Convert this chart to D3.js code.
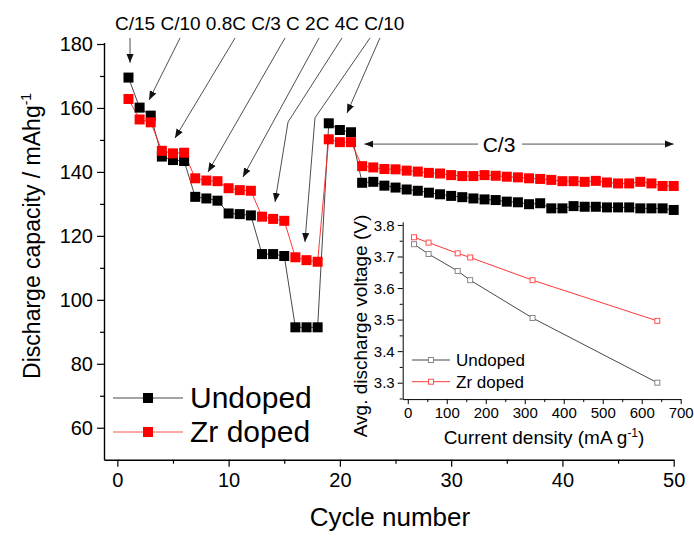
<!DOCTYPE html>
<html>
<head>
<meta charset="utf-8">
<script src="https://cdn.jsdelivr.net/npm/d3@7"></script>
<style>
  html, body { margin: 0; padding: 0; background: #fff; }
  svg { display: block; font-family: Arial, "Liberation Sans", sans-serif; }
</style>
</head>
<body>
<svg id="chart" width="694" height="536"></svg>
<script>
// ---------------- DATA ----------------
const cycles = d3.range(1, 51);
const undoped = [169.5, 160.1, 157.6, 144.8, 143.7, 143.4, 132.2, 131.7, 131.0, 127.0,
  126.8, 126.4, 114.3, 114.3, 113.7, 91.4, 91.4, 91.4, 155.2, 153.1,
  152.4, 136.6, 136.9, 135.7, 135.1, 134.5, 134.1, 133.5, 133.0, 132.5,
  132.1, 131.7, 131.4, 131.2, 130.7, 130.5, 129.9, 130.2, 128.6, 128.6,
  129.3, 129.1, 129.1, 128.9, 128.9, 128.9, 128.6, 128.6, 128.6, 128.1];
const zrDoped = [162.8, 156.4, 155.5, 146.6, 145.8, 146.0, 138.0, 137.3, 137.1, 134.9,
  134.3, 134.1, 126.0, 125.3, 124.7, 113.3, 112.4, 111.9, 150.2, 149.3,
  149.3, 141.8, 141.4, 140.9, 140.8, 140.4, 140.1, 139.7, 139.5, 139.0,
  138.7, 138.7, 139.0, 138.8, 138.5, 138.3, 138.0, 137.8, 137.5, 137.1,
  137.1, 136.9, 137.2, 136.7, 136.4, 136.4, 136.9, 136.4, 135.6, 135.6];
const seriesNames = ["Undoped", "Zr doped"];

const xTicks = [0, 10, 20, 30, 40, 50];
const yTicks = [60, 80, 100, 120, 140, 160, 180];

// rate annotations: label, arrow start and (optional) bend, arrow tip (cycle, capacity)
const rateLabels = ["C/15", "C/10", "0.8C", "C/3", "C", "2C", "4C", "C/10"];
const arrowStart = [[1.14, 181.9], [5.64, 181.9], [10.58, 181.9], [15.07, 181.9],
  [18.13, 181.9], [20.19, 181.9], [22.71, 181.9], [23.6, 181.9]];
const arrowBend = [null, null, null, null, null, [15.34, 155.6], [17.76, 156.9], null];
const arrowTip = [[1.14, 174.1], [2.85, 162.5], [5.18, 150.6], [8.15, 140.0],
  [11.29, 138.4], [14.17, 130.6], [16.86, 118.1], [20.64, 158.4]];
const longRateLabel = "C/3";
const longRateSpan = [22.2, 50];
const longRateY = 148.7;

// inset
const currentDensity = [16, 53.3, 128, 160, 320, 640];
const voltUndoped = [3.739, 3.708, 3.654, 3.625, 3.505, 3.300];
const voltZr = [3.761, 3.744, 3.710, 3.697, 3.625, 3.496];
const insetXTicks = [0, 100, 200, 300, 400, 500, 600, 700];
const insetYTicks = [3.3, 3.4, 3.5, 3.6, 3.7, 3.8];

// ---------------- CHART ----------------
const svg = d3.select("#chart");
const x = d3.scaleLinear().domain([-1.2, 50]).range([104, 673.7]);
const y = d3.scaleLinear().domain([50, 180.5]).range([459.7, 42.4]);

svg.append("defs").append("marker")
  .attr("id", "ah").attr("viewBox", "0 0 10 10").attr("refX", 10).attr("refY", 5)
  .attr("markerWidth", 9).attr("markerHeight", 9).attr("markerUnits", "userSpaceOnUse")
  .attr("orient", "auto")
  .append("path").attr("d", "M0,1 L10,5 L0,9 Z").attr("fill", "#111");

// lines
const line = d3.line().x((d, i) => x(cycles[i])).y(d => y(d));
svg.append("path").datum(undoped).attr("d", line)
  .attr("fill", "none").attr("stroke", "#333").attr("stroke-width", 0.9);
svg.append("path").datum(zrDoped).attr("d", line)
  .attr("fill", "none").attr("stroke", "#ff2020").attr("stroke-width", 0.9);

const ms = 10;
svg.append("g").selectAll("rect").data(undoped).join("rect")
  .attr("x", (d, i) => x(cycles[i]) - ms / 2).attr("y", d => y(d) - ms / 2)
  .attr("width", ms).attr("height", ms).attr("fill", "#000");
svg.append("g").selectAll("rect").data(zrDoped).join("rect")
  .attr("x", (d, i) => x(cycles[i]) - ms / 2).attr("y", d => y(d) - ms / 2)
  .attr("width", ms).attr("height", ms).attr("fill", "#ff0000");

// axes
const xAxis = svg.append("g").attr("transform", `translate(0,${y.range()[0]})`)
  .call(d3.axisBottom(x).tickValues(xTicks).tickSize(7).tickSizeOuter(0).tickPadding(6));
svg.append("g").attr("transform", `translate(0,${y.range()[0]})`)
  .call(d3.axisBottom(x).tickValues(d3.range(5, 50, 10)).tickSize(4).tickFormat("").tickSizeOuter(0))
  .select(".domain").remove();
const yAxis = svg.append("g").attr("transform", `translate(${x.range()[0]},0)`)
  .call(d3.axisLeft(y).tickValues(yTicks).tickSize(7).tickSizeOuter(0).tickPadding(4));
svg.append("g").attr("transform", `translate(${x.range()[0]},0)`)
  .call(d3.axisLeft(y).tickValues(d3.range(70, 180, 20)).tickSize(4).tickFormat("").tickSizeOuter(0))
  .select(".domain").remove();
svg.selectAll(".domain").attr("stroke-width", 1.4);
svg.selectAll(".tick line").attr("stroke-width", 1.2);
xAxis.selectAll("text").attr("font-size", 20).attr("font-family", "Arial, 'Liberation Sans', sans-serif");
yAxis.selectAll("text").attr("font-size", 20).attr("dy", "0.35em").attr("font-family", "Arial, 'Liberation Sans', sans-serif");

// axis titles
svg.append("text").attr("x", 390).attr("y", 526)
  .attr("text-anchor", "middle").attr("font-size", 26).text("Cycle number");
const yt = svg.append("text").attr("transform", `translate(40,${(y(60) + y(180)) / 2}) rotate(-90)`)
  .attr("text-anchor", "middle").attr("font-size", 23);
yt.append("tspan").text("Discharge capacity / mAhg");
yt.append("tspan").attr("font-size", 14).attr("dy", -9).text("-1");

// legend (main)
const legColors = ["#000", "#ff0000"];
const legLine = ["#333", "#ff4040"];
seriesNames.forEach((name, i) => {
  const ly = 398 + i * 34;
  svg.append("line").attr("x1", 113).attr("x2", 183).attr("y1", ly).attr("y2", ly)
    .attr("stroke", legLine[i]).attr("stroke-width", 0.9);
  svg.append("rect").attr("x", 148 - ms / 2).attr("y", ly - ms / 2).attr("width", ms).attr("height", ms)
    .attr("fill", legColors[i]);
  svg.append("text").attr("x", 190).attr("y", ly + 10).attr("font-size", 30).text(name);
});

// rate labels at top
svg.append("text").attr("x", 115).attr("y", 30).attr("font-size", 19)
  .text(rateLabels.join(" "));
rateLabels.forEach((lab, i) => {
  const pts = [arrowStart[i]];
  if (arrowBend[i]) pts.push(arrowBend[i]);
  pts.push(arrowTip[i]);
  svg.append("path").attr("d", d3.line().x(p => x(p[0])).y(p => y(p[1]))(pts))
    .attr("fill", "none").attr("stroke", "#222").attr("stroke-width", 0.8)
    .attr("marker-end", "url(#ah)");
});

// long C/3 double arrow
const midX = (x(longRateSpan[0]) + x(longRateSpan[1])) / 2 - 20;
svg.append("line").attr("x1", midX - 21).attr("x2", x(longRateSpan[0]))
  .attr("y1", y(longRateY)).attr("y2", y(longRateY))
  .attr("stroke", "#222").attr("stroke-width", 0.8).attr("marker-end", "url(#ah)");
svg.append("line").attr("x1", midX + 23).attr("x2", x(longRateSpan[1]))
  .attr("y1", y(longRateY)).attr("y2", y(longRateY))
  .attr("stroke", "#222").attr("stroke-width", 0.8).attr("marker-end", "url(#ah)");
svg.append("text").attr("x", midX).attr("y", y(longRateY) + 7.5)
  .attr("text-anchor", "middle").attr("font-size", 21).text(longRateLabel);

// ---------------- INSET ----------------
const xi = d3.scaleLinear().domain([-13, 700]).range([402.7, 680.7]);
const yi = d3.scaleLinear().domain([3.248, 3.81]).range([399.1, 221.8]);
const ins = svg.append("g");
const il = d3.line().x((d, i) => xi(currentDensity[i])).y(d => yi(d));
ins.append("path").datum(voltUndoped).attr("d", il).attr("fill", "none").attr("stroke", "#333").attr("stroke-width", 0.9);
ins.append("path").datum(voltZr).attr("d", il).attr("fill", "none").attr("stroke", "#ff2020").attr("stroke-width", 0.9);
const ims = 5;
[[voltUndoped, "#888"], [voltZr, "#ff5050"]].forEach(([vals, col]) => {
  ins.append("g").selectAll("rect").data(vals).join("rect")
    .attr("x", (d, i) => xi(currentDensity[i]) - ims / 2).attr("y", d => yi(d) - ims / 2)
    .attr("width", ims).attr("height", ims).attr("fill", "#fff").attr("stroke", col).attr("stroke-width", 1);
});
const ixa = ins.append("g").attr("transform", `translate(0,${yi.range()[0]})`)
  .call(d3.axisBottom(xi).tickValues(insetXTicks).tickSize(5).tickSizeOuter(0).tickPadding(3));
ins.append("g").attr("transform", `translate(0,${yi.range()[0]})`)
  .call(d3.axisBottom(xi).tickValues(d3.range(50, 700, 100)).tickSize(3).tickFormat("").tickSizeOuter(0))
  .select(".domain").remove();
const iya = ins.append("g").attr("transform", `translate(${xi.range()[0]},0)`)
  .call(d3.axisLeft(yi).tickValues(insetYTicks).tickSize(5).tickSizeOuter(0).tickPadding(3).tickFormat(d3.format(".1f")));
ins.append("g").attr("transform", `translate(${xi.range()[0]},0)`)
  .call(d3.axisLeft(yi).tickValues(d3.range(3.25, 3.8, 0.1)).tickSize(3).tickFormat("").tickSizeOuter(0))
  .select(".domain").remove();
ins.selectAll(".domain").attr("stroke-width", 1);
ixa.selectAll("text").attr("font-size", 15).attr("font-family", "Arial, 'Liberation Sans', sans-serif");
iya.selectAll("text").attr("font-size", 15).attr("dy", "0.35em").attr("font-family", "Arial, 'Liberation Sans', sans-serif");

const ixt = ins.append("text").attr("x", 544).attr("y", 444)
  .attr("text-anchor", "middle").attr("font-size", 19);
ixt.append("tspan").text("Current density (mA g");
ixt.append("tspan").attr("font-size", 12).attr("dy", -7).text("-1");
ixt.append("tspan").attr("dy", 7).text(")");
ins.append("text").attr("transform", `translate(367,326) rotate(-90)`)
  .attr("text-anchor", "middle").attr("font-size", 19).text("Avg. discharge voltage (V)");

// inset legend
[["#333", "#888"], ["#ff2020", "#ff5050"]].forEach(([lc, mc], i) => {
  const ly = 360 + i * 21.7;
  ins.append("line").attr("x1", 412).attr("x2", 450).attr("y1", ly).attr("y2", ly).attr("stroke", lc).attr("stroke-width", 0.9);
  ins.append("rect").attr("x", 431 - ims / 2).attr("y", ly - ims / 2).attr("width", ims).attr("height", ims)
    .attr("fill", "#fff").attr("stroke", mc);
  ins.append("text").attr("x", 456).attr("y", ly + 6).attr("font-size", 17).text(seriesNames[i]);
});
</script>
</body>
</html>
